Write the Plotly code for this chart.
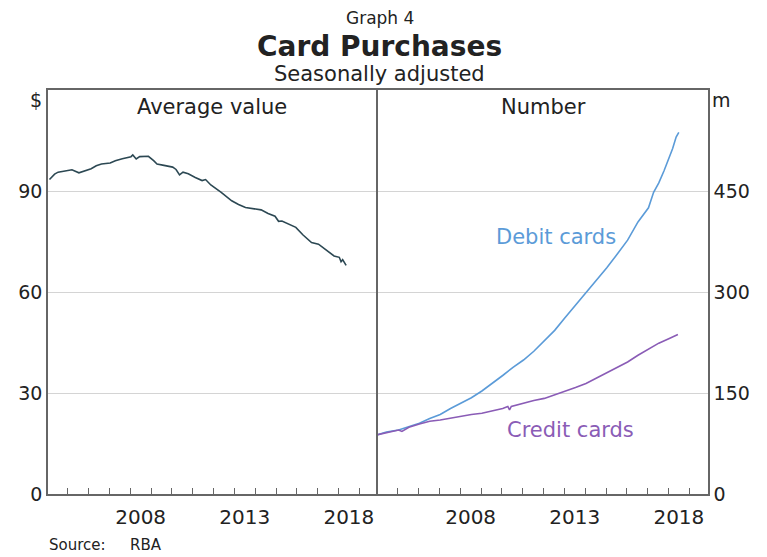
import plotly.graph_objects as go

# ---- data ----
avg_dates = ["2004-02-15", "2004-05-15", "2004-07-15", "2004-12-15", "2005-03-15", "2005-07-15",
             "2005-10-15", "2006-02-15", "2006-05-15", "2006-08-15", "2007-01-15", "2007-04-15",
             "2007-08-15", "2008-01-15", "2008-02-15", "2008-04-15", "2008-06-15", "2008-11-15",
             "2009-02-15", "2009-04-15", "2009-08-15", "2010-01-15", "2010-03-15", "2010-05-15",
             "2010-07-15", "2010-10-15", "2011-02-15", "2011-06-15", "2011-08-15", "2011-11-15",
             "2012-05-15", "2012-11-15", "2013-03-15", "2013-07-15", "2014-04-15", "2014-08-15",
             "2014-12-15", "2015-02-15", "2015-04-15", "2015-12-15", "2016-04-15", "2016-09-15",
             "2017-01-15", "2017-05-15", "2017-10-15", "2018-01-15", "2018-02-15", "2018-03-15",
             "2018-05-15"]
avg_value = [93.4, 95.0, 95.6, 95.9, 96.3, 95.4,
             96.0, 96.6, 97.5, 98.0, 98.3, 99.0,
             99.6, 100.2, 100.7, 99.5, 100.2, 100.3,
             99.0, 98.0, 97.6, 97.1, 96.4, 94.8,
             95.6, 95.1, 94.0, 93.1, 93.4, 91.8,
             89.6, 87.1, 86.0, 85.1, 84.4, 83.3,
             82.5, 81.0, 81.1, 79.2, 77.0, 74.7,
             74.2, 72.6, 70.7, 70.3, 69.0, 69.6,
             67.9]

debit_dates = ["2004-01-15", "2004-06-15", "2005-01-15", "2005-07-15", "2006-01-15", "2006-07-15",
               "2007-01-15", "2007-07-15", "2008-01-15", "2008-07-15", "2009-01-15", "2009-07-15",
               "2010-01-15", "2010-07-15", "2011-01-15", "2011-07-15", "2012-01-15", "2012-07-15",
               "2013-01-15", "2013-07-15", "2014-01-15", "2014-07-15", "2015-01-15", "2015-07-15",
               "2016-01-15", "2016-07-15", "2017-01-15", "2017-04-15", "2017-07-15", "2017-10-15",
               "2018-01-15", "2018-03-15", "2018-05-15", "2018-07-01"]
debit_number = [88, 92, 95, 100, 105, 112,
                118, 127, 135, 143, 153, 164,
                176, 188, 199, 212, 228, 243,
                262, 280, 298, 317, 336, 356,
                377, 404, 425, 448, 462, 480,
                500, 513, 530, 537]

credit_dates = ["2004-01-15", "2004-06-15", "2005-01-15", "2005-03-15", "2005-07-15", "2006-01-15",
                "2006-07-15", "2007-01-15", "2007-07-15", "2008-01-15", "2008-07-15", "2009-01-15",
                "2009-07-15", "2010-01-15", "2010-04-15", "2010-05-15", "2010-06-15", "2011-01-15",
                "2011-07-15", "2012-01-15", "2012-07-15", "2013-01-15", "2013-07-15", "2014-01-15",
                "2014-07-15", "2015-01-15", "2015-07-15", "2016-01-15", "2016-07-15", "2017-01-15",
                "2017-07-15", "2018-01-15", "2018-06-15"]
credit_number = [88, 91, 95, 93, 99, 104,
                 108, 110, 113, 115.5, 118, 120,
                 123, 127, 130, 125, 130, 135,
                 139, 142, 147, 152, 158, 164,
                 172, 179, 187, 196, 206, 215,
                 224, 231, 237]

x_labels = ["2008", "2013", "2018"]
x_label_pos = ["2008-07-02", "2013-07-02", "2018-07-02"]
left_ticks = [0, 30, 60, 90]
right_ticks = [0, 150, 300, 450]

# ---- styles ----
FONT = "DejaVu Sans"
TXT = "#222222"
FRAME = "#666666"
GRID = "#d4d4d4"
C_AVG = "#2c4853"
C_DEBIT = "#5b9bd8"
C_CREDIT = "#8a5cb6"

fig = go.Figure()
fig.add_trace(go.Scatter(x=avg_dates, y=avg_value, mode="lines", xaxis="x", yaxis="y",
                         line=dict(color=C_AVG, width=1.6), showlegend=False))
fig.add_trace(go.Scatter(x=debit_dates, y=debit_number, mode="lines", xaxis="x2", yaxis="y2",
                         line=dict(color=C_DEBIT, width=1.6), showlegend=False))
fig.add_trace(go.Scatter(x=credit_dates, y=credit_number, mode="lines", xaxis="x2", yaxis="y2",
                         line=dict(color=C_CREDIT, width=1.6), showlegend=False))

xcommon = dict(type="date", range=["2004-01-20", "2019-11-25"],
               tickmode="array", tickvals=x_label_pos, ticktext=x_labels, ticks="",
               ticklabelstandoff=4,
               showgrid=False, zeroline=False, showline=True, mirror=True,
               linecolor=FRAME, linewidth=1.5,
               tickfont=dict(family=FONT, size=20, color=TXT),
               minor=dict(tickmode="linear", tick0="2005-01-01", dtick="M12",
                          ticks="inside", ticklen=6, tickwidth=1.2, tickcolor=FRAME,
                          showgrid=False))
fig.update_layout(
    width=759, height=549,
    margin=dict(l=40, r=59, t=82, b=63, autoexpand=False),
    paper_bgcolor="white", plot_bgcolor="white",
    xaxis=dict(domain=[0, 0.5], anchor="y", **xcommon),
    xaxis2=dict(domain=[0.5, 1], anchor="y2", **xcommon),
    yaxis=dict(domain=[0, 1], anchor="x", range=[0, 120], tickmode="array", tickvals=left_ticks,
               ticks="", showgrid=True, gridcolor=GRID, gridwidth=1, zeroline=False,
               showline=True, mirror=False, linecolor=FRAME, linewidth=1.5,
               tickfont=dict(family=FONT, size=19, color=TXT)),
    yaxis2=dict(domain=[0, 1], anchor="x2", side="right", range=[0, 600], tickmode="array",
                tickvals=right_ticks, ticks="", showgrid=True, gridcolor=GRID, gridwidth=1,
                zeroline=False, showline=True, mirror=True, linecolor=FRAME, linewidth=1.5,
                tickfont=dict(family=FONT, size=19, color=TXT)),
)

def ann(text, x, y, size, color=TXT, xanchor="center", bold=False):
    fig.add_annotation(text=f"<b>{text}</b>" if bold else text, x=x, y=y, xref="paper", yref="paper",
                       xanchor=xanchor, yanchor="middle", showarrow=False,
                       font=dict(family=FONT, size=size, color=color))

ann("Graph 4", 0.503, 1.177, 17)
ann("Card Purchases", 0.503, 1.107, 28, bold=True)
ann("Seasonally adjusted", 0.503, 1.040, 21)
ann("Average value", 0.2485, 0.958, 21)
ann("Number", 0.75, 0.958, 21)
ann("$", -0.018, 0.975, 19)
ann("m", 1.020, 0.975, 19)
ann("Debit cards", 0.770, 0.636, 21, color=C_DEBIT)
ann("Credit cards", 0.791, 0.158, 21, color=C_CREDIT)
ann("Source:", -0.0015, -0.126, 15, xanchor="left")
ann("RBA", 0.121, -0.126, 15, xanchor="left")

fig.write_html("out.html")
